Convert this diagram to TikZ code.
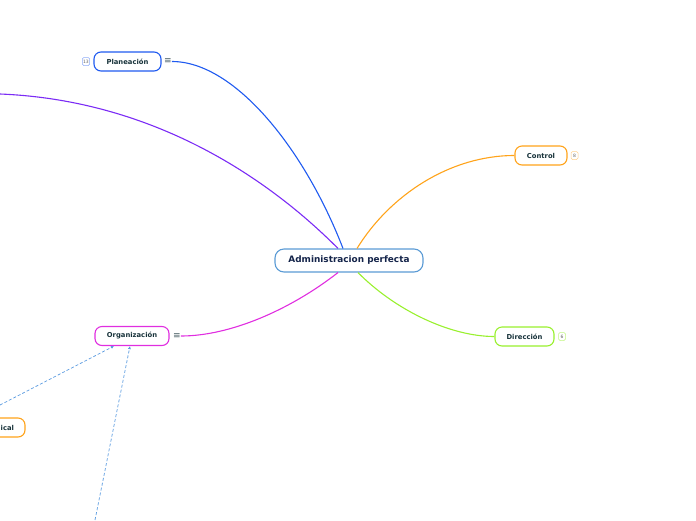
\documentclass[tikz,border=0pt]{standalone}
\usepackage{fontspec}
\setmainfont{DejaVu Sans}
\usetikzlibrary{arrows.meta}
\definecolor{cblue}{HTML}{1F5AF0}
\definecolor{cviolet}{HTML}{7B2BF5}
\definecolor{corange}{HTML}{FFA31A}
\definecolor{cgreen}{HTML}{99F02E}
\definecolor{cmag}{HTML}{E02EE0}
\definecolor{ccentral}{HTML}{5B9BD5}
\definecolor{cdash}{HTML}{5B9BE0}
\definecolor{ctext}{HTML}{17323A}
\definecolor{cnavy}{HTML}{14244A}
\tikzset{
  topic/.style={draw, rounded corners=7pt, line width=1.1pt, fill=white, text=ctext,
    font=\fontsize{6.8}{8}\selectfont\bfseries, inner xsep=0pt, inner ysep=0pt, minimum height=19pt},
  badge/.style={draw, rounded corners=1.5pt, line width=0.5pt, fill=white, text=gray!80!black,
    font=\fontsize{4.5}{5}\selectfont, inner sep=0.8pt, minimum height=8pt, minimum width=7pt},
  link/.style={line width=1.1pt},
  menu/.style={text=ctext!80, font=\fontsize{9}{9}\selectfont, inner sep=0pt},
  dashlink/.style={cdash, line width=0.7pt, dashed, dash pattern=on 3pt off 2pt, -{Latex[length=3pt,width=3pt]}}
}
\begin{document}
\begin{tikzpicture}[x=1pt,y=-1pt]
\useasboundingbox (0,0) rectangle (696,520);
\clip (0,0) rectangle (696,520);
% nodes
\node[topic, draw=ccentral, text=cnavy, minimum width=148pt, minimum height=23pt, rounded corners=9pt,
  font=\fontsize{8.9}{10}\selectfont\bfseries] (central) at (349,260.5) {Administracion perfecta};
\node[topic, draw=cblue, minimum width=67pt] (plan) at (127.5,61.5) {Planeación};
\node[badge, draw=cblue!50] (planb) at (86,61.5) {13};
\node[menu] (planm) at (168,61.5) {≡};
\node[topic, draw=corange, minimum width=52pt] (ctrl) at (541,155.5) {Control};
\node[badge, draw=corange!50] (ctrlb) at (574.5,155.5) {8};
\node[topic, draw=cgreen, minimum width=59pt] (dir) at (524.5,336.5) {Dirección};
\node[badge, draw=cgreen!60] (dirb) at (562,336.5) {6};
\node[topic, draw=cmag, minimum width=74pt] (org) at (132,336) {Organización};
\node[menu] (orgm) at (177,336) {≡};
\node[topic, draw=corange, minimum width=70pt, text width=48pt, align=right] (vert) at (-10,427.5) {ical};
\coordinate (vl) at (0,94);
\coordinate (d1) at (0,405);
\coordinate (d2) at (95,520);
% connectors
\draw[link, cviolet] (vl) .. controls (150,100) and (265,175) .. ([xshift=-11pt]central.north);
\draw[link, cblue] (planm.east) .. controls (235,61.5) and (305,150) .. ([xshift=-6pt]central.north);
\draw[link, corange] (ctrl.west) .. controls (450,155.5) and (390,195) .. ([xshift=8pt]central.north);
\draw[link, cgreen] ([xshift=9pt]central.south) .. controls (395,310) and (450,336.5) .. (dir.west);
\draw[link, cmag] ([xshift=-11pt]central.south) .. controls (290,310) and (230,336) .. (orgm.east);
\draw[dashlink] (d1) -- ([xshift=-18pt]org.south);
\draw[dashlink] (d2) -- ([xshift=-2pt]org.south);
\end{tikzpicture}
\end{document}
